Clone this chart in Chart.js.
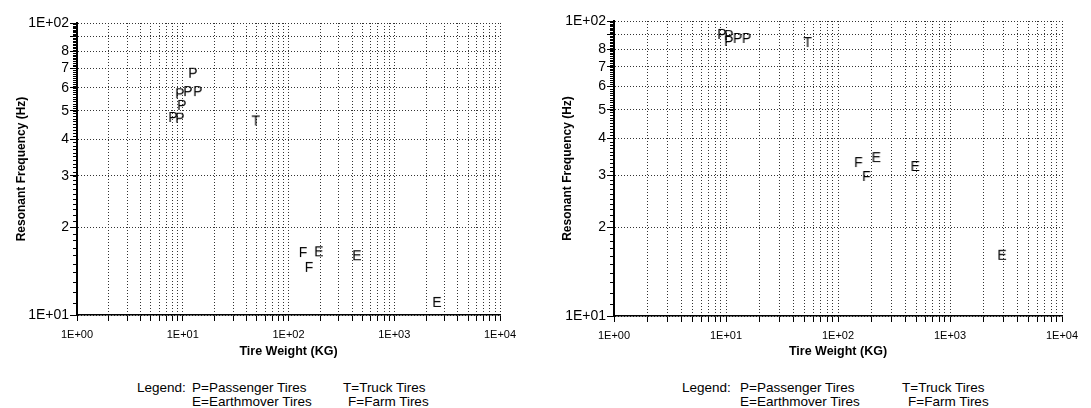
<!DOCTYPE html>
<html>
<head>
<meta charset="utf-8">
<script src="https://cdn.jsdelivr.net/npm/chart.js@4/dist/chart.umd.min.js"></script>
<style>
    body { margin: 0; background: #fff; width: 1091px; height: 408px; position: relative; overflow: hidden;
           font-family: "Liberation Sans", Arial, sans-serif; color: #000; }
    canvas { position: absolute; top: 0; }
    #left_chart { left: 0; }
    #right_chart { left: 545px; }
    .lg { position: absolute; font-size: 13.5px; line-height: 15px; white-space: nowrap; }
</style>
</head>
<body>
<canvas id="left_chart" width="545" height="365"></canvas>
<canvas id="right_chart" width="546" height="365"></canvas>

<span class="lg" style="left:137px;top:380px">Legend:</span>
<span class="lg" style="left:192px;top:380px">P=Passenger Tires</span>
<span class="lg" style="left:343px;top:380px">T=Truck Tires</span>
<span class="lg" style="left:192px;top:394px">E=Earthmover Tires</span>
<span class="lg" style="left:348px;top:394px">F=Farm Tires</span>

<span class="lg" style="left:682px;top:380px">Legend:</span>
<span class="lg" style="left:740px;top:380px">P=Passenger Tires</span>
<span class="lg" style="left:902px;top:380px">T=Truck Tires</span>
<span class="lg" style="left:740px;top:394px">E=Earthmover Tires</span>
<span class="lg" style="left:908px;top:394px">F=Farm Tires</span>

<script>
(function () {
    "use strict";

    // axis ticks
    var xTickValues = [1, 10, 100, 1000, 10000];
    var xTickLabels = ["1E+00", "1E+01", "1E+02", "1E+03", "1E+04"];
    var yTickValues = [10, 20, 30, 40, 50, 60, 70, 80, 90, 100];
    var yTickLabels = ["1E+01", "2", "3", "4", "5", "6", "7", "8", "", "1E+02"];

    // left panel: tire weight (kg) / resonant frequency (Hz)
    var leftPassengerKg = [12.5, 9.4, 11.2, 13.9, 9.8, 8.1, 9.4];
    var leftPassengerHz = [67, 57, 58, 58, 52, 47.3, 47];
    var leftTruckKg = [49];
    var leftTruckHz = [46];
    var leftEarthKg = [194, 444, 2540];
    var leftEarthHz = [16.4, 15.9, 11.0];
    var leftFarmKg = [137, 156];
    var leftFarmHz = [16.3, 14.5];

    // right panel
    var rightPassengerKg = [9.2, 10.6, 10.6, 12.7, 15.3];
    var rightPassengerHz = [89.7, 88.9, 84.9, 86.9, 86.9];
    var rightTruckKg = [53.5];
    var rightTruckHz = [84.2];
    var rightEarthKg = [220, 490, 2920];
    var rightEarthHz = [34.3, 32, 16.0];
    var rightFarmKg = [152, 179];
    var rightFarmHz = [33, 29.6];

    var xGridValues = [];
    xTickValues.forEach(function (d) {
        for (var m = 1; m <= 9; m++) {
            if (d * m <= 10000) xGridValues.push(d * m);
        }
    });

    function pts(xs, ys) {
        return xs.map(function (x, i) { return { x: x, y: ys[i] }; });
    }

    function letterImage(ch) {
        var c = document.createElement("canvas");
        c.width = 14;
        c.height = 16;
        var g = c.getContext("2d");
        g.font = "14px 'Liberation Sans'";
        g.fillStyle = "#000";
        g.textAlign = "center";
        g.textBaseline = "middle";
        g.fillText(ch, 7, 8.5);
        return c;
    }

    var letters = { P: letterImage("P"), T: letterImage("T"), E: letterImage("E"), F: letterImage("F") };

    function series(label, letter, xs, ys) {
        return {
            label: label,
            data: pts(xs, ys),
            pointStyle: letters[letter],
            pointRadius: 7,
            showLine: false,
        };
    }

    var minorTicks = {
        id: "minorTicks",
        afterDraw: function (chart) {
            var y = chart.scales.y;
            var x0 = chart.chartArea.left;
            var ctx = chart.ctx;
            ctx.save();
            ctx.strokeStyle = "#000";
            ctx.lineWidth = 1;
            ctx.beginPath();
            for (var v = 10; v <= 100; v += 1) {
                var py = Math.round(y.getPixelForValue(v)) + 0.5;
                ctx.moveTo(x0 - 4, py);
                ctx.lineTo(x0, py);
            }
            ctx.stroke();
            ctx.restore();
        },
    };

    function makeChart(canvas, datasets, g) {
        return new Chart(canvas, {
            type: "scatter",
            data: { datasets: datasets },
            plugins: [minorTicks],
            options: {
                responsive: false,
                animation: false,
                events: [],
                layout: { padding: { top: g.top, right: g.right, left: 0, bottom: 0 } },
                plugins: { legend: { display: false }, tooltip: { enabled: false } },
                scales: {
                    x: {
                        type: "logarithmic",
                        min: 1,
                        max: 10000,
                        afterBuildTicks: function (scale) {
                            scale.ticks = xGridValues.map(function (v) { return { value: v }; });
                        },
                        afterFit: function (scale) { scale.height = g.xHeight; },
                        ticks: {
                            autoSkip: false,
                            maxRotation: 0,
                            padding: 7,
                            color: "#000",
                            font: { family: "Liberation Sans", size: 11 },
                            callback: function (value) {
                                var i = xTickValues.indexOf(value);
                                return i >= 0 ? xTickLabels[i] : "";
                            },
                        },
                        grid: { color: "#333", lineWidth: 1, tickLength: 6, tickColor: "#000", tickWidth: 1, tickBorderDash: [] },
                        border: { color: "#000", width: 1.5, dash: [1, 2] },
                        title: {
                            display: true,
                            text: "Tire Weight (KG)",
                            color: "#000",
                            font: { family: "Liberation Sans", size: 12.5, weight: "bold" },
                            padding: { top: 0, bottom: 6 },
                        },
                    },
                    y: {
                        type: "logarithmic",
                        min: 10,
                        max: 100,
                        afterBuildTicks: function (scale) {
                            scale.ticks = yTickValues.map(function (v) { return { value: v }; });
                        },
                        afterFit: function (scale) { scale.width = g.left; },
                        ticks: {
                            autoSkip: false,
                            padding: 1,
                            color: "#000",
                            font: { family: "Liberation Sans", size: 14 },
                            callback: function (value) {
                                var i = yTickValues.indexOf(value);
                                return i >= 0 ? yTickLabels[i] : "";
                            },
                        },
                        grid: { color: "#333", lineWidth: 1, tickLength: 7, tickColor: "#000", tickWidth: 1, tickBorderDash: [] },
                        border: { color: "#000", width: 2, dash: [1, 2] },
                        title: {
                            display: true,
                            text: "Resonant Frequency (Hz)",
                            color: "#000",
                            font: { family: "Liberation Sans", size: 12, weight: "bold" },
                            padding: { top: g.titlePad, bottom: 0 },
                        },
                    },
                },
            },
        });
    }

    makeChart(document.getElementById("left_chart"), [
        series("Passenger", "P", leftPassengerKg, leftPassengerHz),
        series("Truck", "T", leftTruckKg, leftTruckHz),
        series("Earthmover", "E", leftEarthKg, leftEarthHz),
        series("Farm", "F", leftFarmKg, leftFarmHz),
    ], { top: 23, right: 45, left: 77, xHeight: 50, titlePad: 14 });

    makeChart(document.getElementById("right_chart"), [
        series("Passenger", "P", rightPassengerKg, rightPassengerHz),
        series("Truck", "T", rightTruckKg, rightTruckHz),
        series("Earthmover", "E", rightEarthKg, rightEarthHz),
        series("Farm", "F", rightFarmKg, rightFarmHz),
    ], { top: 21, right: 29, left: 69, xHeight: 49, titlePad: 15 });
})();
</script>
</body>
</html>
